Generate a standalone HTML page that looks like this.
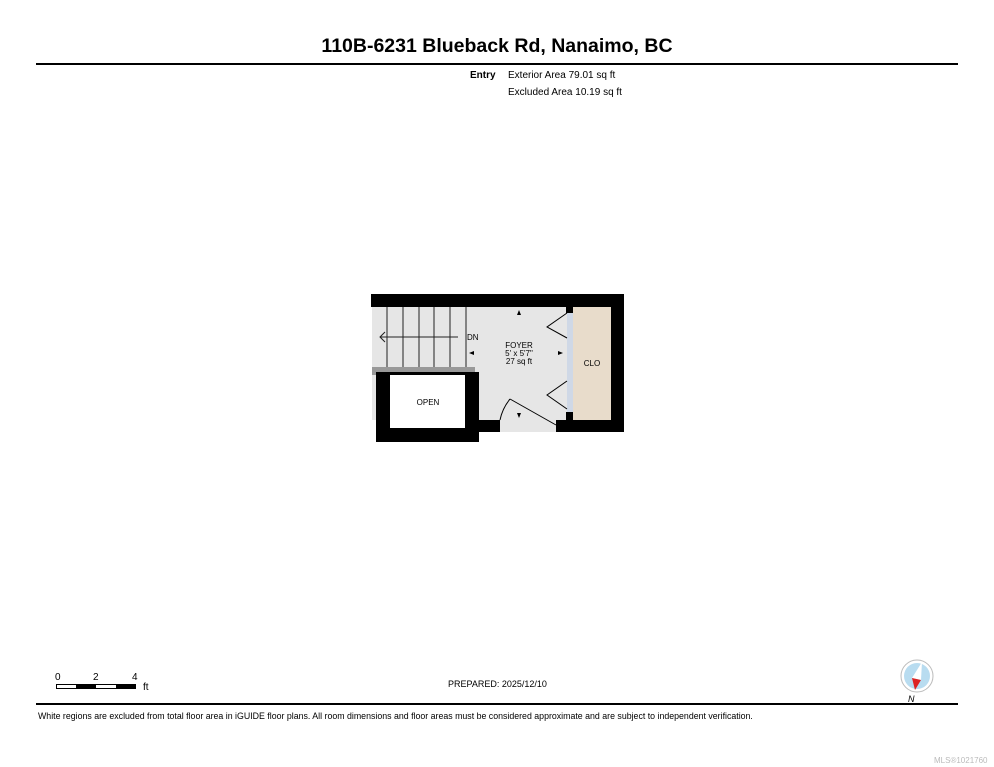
<!DOCTYPE html>
<html><head><style>
body{margin:0;background:#fff;width:994px;height:767px;position:relative;font-family:"Liberation Sans",Arial,sans-serif;overflow:hidden}
.t{position:absolute;white-space:nowrap;color:#000}
</style></head><body>
<div class="t" style="left:0;width:994px;text-align:center;top:35px;font-size:19.5px;font-weight:bold">110B-6231 Blueback Rd, Nanaimo, BC</div>
<div style="position:absolute;left:36px;top:63px;width:922px;height:2px;background:#000"></div>
<div class="t" style="left:470px;top:70px;font-size:10px;font-weight:bold">Entry</div>
<div class="t" style="left:508px;top:70px;font-size:10px">Exterior Area 79.01 sq ft</div>
<div class="t" style="left:508px;top:87px;font-size:10px">Excluded Area 10.19 sq ft</div>

<svg width="994" height="767" style="position:absolute;left:0;top:0">
<rect x="372" y="307" width="240" height="113" fill="#e6e6e6"/>
<rect x="500" y="420" width="56" height="12" fill="#e6e6e6"/>
<rect x="573" y="307" width="38" height="113" fill="#e8dccb"/>
<rect x="567" y="307" width="6" height="113" fill="#cfd8e6"/>
<g stroke="#222" stroke-width="1">
<line x1="387" y1="307" x2="387" y2="367"/><line x1="403" y1="307" x2="403" y2="367"/>
<line x1="419" y1="307" x2="419" y2="367"/><line x1="434" y1="307" x2="434" y2="367"/>
<line x1="450" y1="307" x2="450" y2="367"/><line x1="466" y1="307" x2="466" y2="367"/>
<line x1="380" y1="337" x2="458" y2="337"/>
<polyline points="385,332 380,337 385,342" fill="none"/>
</g>
<rect x="372" y="367" width="103" height="8" fill="#999"/>
<rect x="466" y="367" width="9" height="53" fill="#999"/>
<rect x="376" y="372" width="103" height="70" fill="#000"/>
<rect x="390" y="375" width="75" height="53" fill="#fff"/>
<rect x="371" y="294" width="253" height="13" fill="#000"/>
<rect x="611" y="294" width="13" height="138" fill="#000"/>
<rect x="465" y="420" width="35" height="12" fill="#000"/>
<rect x="556" y="420" width="68" height="12" fill="#000"/>
<rect x="566" y="307" width="7" height="6" fill="#000"/>
<rect x="566" y="412" width="7" height="8" fill="#000"/>
<g stroke="#000" stroke-width="1" fill="none">
<polyline points="567,313 547,327 567,338"/>
<polyline points="567,381 547,395 567,409"/>
<line x1="510" y1="399" x2="556" y2="425"/>
<path d="M510,399 A48,48 0 0 0 500,420"/>
</g>
<g fill="#000">
<polygon points="519,310 517,315 521,315"/>
<polygon points="519,418 517,413 521,413"/>
<polygon points="469,353 474,351 474,355"/>
<polygon points="563,353 558,351 558,355"/>
</g>
<text x="467" y="340" font-size="8" font-family="Liberation Sans">DN</text>
<text x="519" y="348" font-size="8" text-anchor="middle" font-family="Liberation Sans">FOYER</text>
<text x="519" y="356" font-size="8" text-anchor="middle" font-family="Liberation Sans">5' x 5'7"</text>
<text x="519" y="364" font-size="8" text-anchor="middle" font-family="Liberation Sans">27 sq ft</text>
<text x="592" y="366" font-size="8" text-anchor="middle" font-family="Liberation Sans">CLO</text>
<text x="428" y="405" font-size="8" text-anchor="middle" font-family="Liberation Sans">OPEN</text>
<rect x="56.5" y="684.5" width="79" height="4" fill="#fff" stroke="#000"/>
<rect x="76" y="684" width="20" height="5" fill="#000"/><rect x="116" y="684" width="20" height="5" fill="#000"/>
<text x="55" y="680" font-size="10" font-family="Liberation Sans">0</text>
<text x="93" y="680" font-size="10" font-family="Liberation Sans">2</text>
<text x="132" y="680" font-size="10" font-family="Liberation Sans">4</text>
<text x="143" y="690" font-size="10" font-family="Liberation Sans">ft</text>
<circle cx="917" cy="676" r="16" fill="#fff" stroke="#bbb"/>
<circle cx="917" cy="676" r="13" fill="#b8dcf0"/>
<polygon points="922,662 912,678 921,680" fill="#fff"/>
<polygon points="912,678 921,680 915,690" fill="#d22"/>
<text x="908" y="702" font-size="9" font-style="italic" font-family="Liberation Sans">N</text>
</svg>
<div class="t" style="left:448px;top:679px;font-size:9px">PREPARED: 2025/12/10</div>
<div style="position:absolute;left:36px;top:703px;width:922px;height:2px;background:#000"></div>
<div class="t" style="left:38px;top:711px;font-size:8.8px">White regions are excluded from total floor area in iGUIDE floor plans. All room dimensions and floor areas must be considered approximate and are subject to independent verification.</div>
<div class="t" style="left:934px;top:756px;font-size:8px;color:#bbb">MLS®1021760</div>
</body></html>
